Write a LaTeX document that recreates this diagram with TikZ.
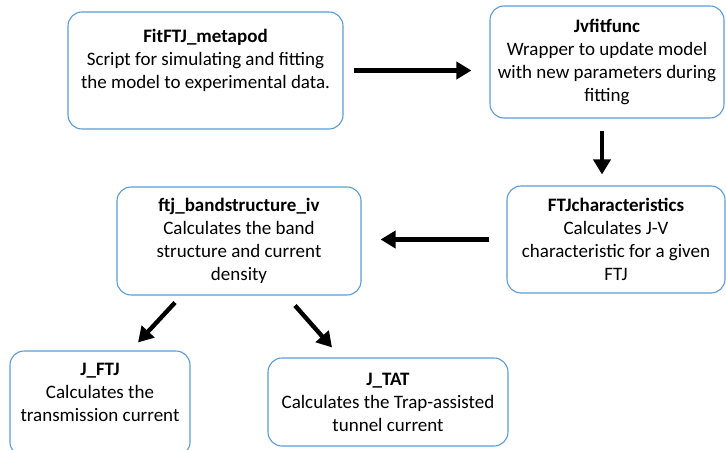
\documentclass[tikz,border=0pt]{standalone}
\usepackage{fontspec}
\setmainfont{Carlito}
\usetikzlibrary{arrows.meta,calc,positioning}
\definecolor{BoxBlue}{HTML}{5B9BD5}
\tikzset{
  every node/.style={font=\fontsize{19}{23}\selectfont, text=black},
  box/.style={draw=BoxBlue, line width=1.1pt, rounded corners=14pt, align=center, inner sep=0pt},
  flow/.style={-{Triangle[length=15pt,width=17pt]}, draw=black, line width=4.4pt},
}

\begin{document}
\begin{tikzpicture}[x=1pt,y=-1pt]
  \useasboundingbox (0,0) rectangle (726,450);
  % top row
  \node[box, minimum width=275pt, minimum height=117pt] (fit) at (205.5,70.5)
    {\textbf{FitFTJ\_metapod}\\Script for simulating and fitting\\the model to experimental data.\\\mbox{}};
  \node[box, minimum width=234pt, minimum height=112pt] (jv) at (607,62)
    {\textbf{Jvfitfunc}\\Wrapper to update model\\with new parameters during\\fitting};
  % middle row
  \node[box, minimum width=244pt, minimum height=108pt] (band) at (239,241)
    {\textbf{ftj\_bandstructure\_iv}\\Calculates the band\\structure and current\\density};
  \node[box, minimum width=218pt, minimum height=107pt] (ftjc) at (616,239.5)
    {\textbf{FTJcharacteristics}\\Calculates J-V\\characteristic for a given\\FTJ};
  % bottom row
  \node[box, minimum width=180pt, minimum height=105pt] (jftj) at (100,403.5)
    {\textbf{J\_FTJ}\\Calculates the\\transmission current\\\mbox{}};
  \node[box, minimum width=240pt, minimum height=88pt] (jtat) at (388,402)
    {\textbf{J\_TAT}\\Calculates the Trap-assisted\\tunnel current};
  % arrows
  \draw[flow, shorten <=10pt, shorten >=18pt] (fit.east) -- (fit.east -| jv.west);
  \draw[flow, shorten <=12pt, shorten >=11pt] ([xshift=-5pt]jv.south) -- ([xshift=-5pt]jv.south |- ftjc.north);
  \draw[flow, shorten <=17pt, shorten >=19pt] (ftjc.west) -- (ftjc.west -| band.east);
  \draw[flow] ([shift={(-64,7)}]band.south) -- ([shift={(38,-8)}]jftj.north);
  \draw[flow] ([shift={(56,10)}]band.south) -- ([shift={(-56,-10)}]jtat.north);
\end{tikzpicture}
\end{document}
